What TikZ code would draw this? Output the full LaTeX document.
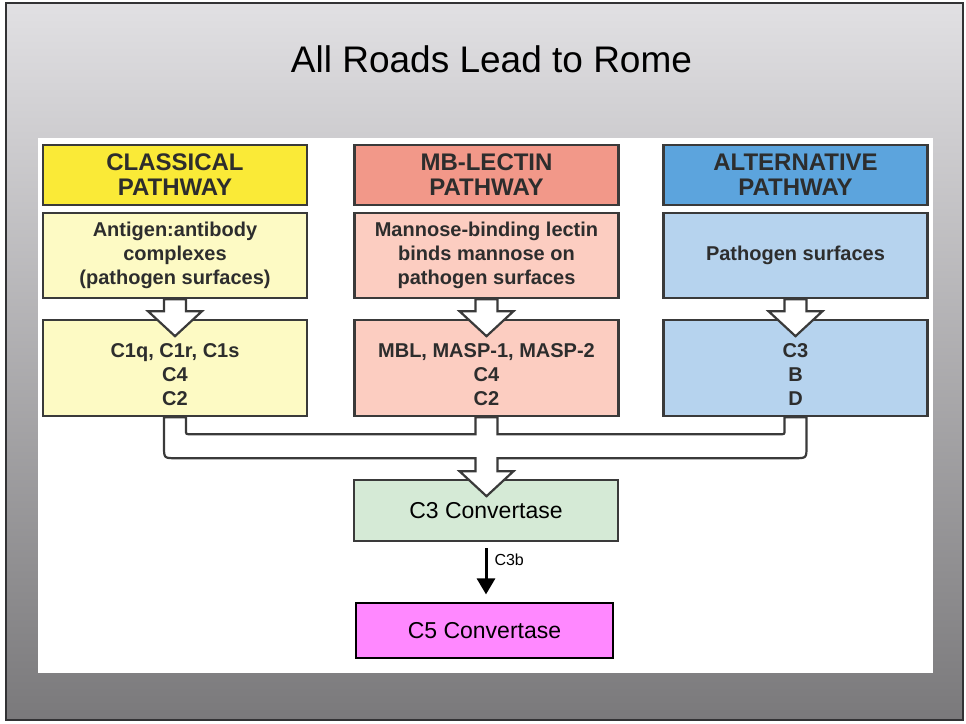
\documentclass[tikz,border=0pt]{standalone}
\usepackage{fontspec}
\setmainfont{Liberation Sans}
\usetikzlibrary{calc,arrows.meta}
\definecolor{bgtop}{RGB}{225,224,227}
\definecolor{bgmid}{RGB}{190,189,192}
\definecolor{bgbot}{RGB}{122,121,123}
\definecolor{framecol}{RGB}{50,50,52}
\definecolor{edge}{RGB}{58,58,58}
\definecolor{txt}{RGB}{45,45,45}
\definecolor{yelH}{RGB}{250,234,55}
\definecolor{yelL}{RGB}{253,250,196}
\definecolor{salH}{RGB}{242,152,137}
\definecolor{salL}{RGB}{252,205,193}
\definecolor{bluH}{RGB}{92,164,221}
\definecolor{bluL}{RGB}{182,211,238}
\definecolor{grn}{RGB}{213,234,214}
\definecolor{mag}{RGB}{255,136,255}
\newcommand{\lowstrut}{\rule{0pt}{27pt}}
\tikzset{
  hdr/.style={draw=edge, line width=2.4pt, minimum width=264pt, minimum height=60pt,
    inner sep=0pt, align=center, text=txt, font=\fontsize{24}{25}\selectfont\bfseries},
  midbox/.style={draw=edge, line width=2.4pt, minimum width=264pt, minimum height=85pt,
    inner sep=0pt, align=center, text=txt, font=\fontsize{20}{24}\selectfont\bfseries},
  lowbox/.style={draw=edge, line width=2.4pt, minimum width=264pt, minimum height=96pt,
    inner sep=0pt, align=center, text=txt, font=\fontsize{20}{24}\selectfont\bfseries},
  convbox/.style={line width=2.4pt, inner sep=0pt, align=center, text=black,
    font=\fontsize{23}{24}\selectfont},
  hollow/.style={draw=edge, fill=white, line width=2.2pt, line join=miter},
}
\begin{document}
\begin{tikzpicture}[x=1pt,y=-1pt]
\useasboundingbox (0,0) rectangle (966,723);
\fill[white] (0,0) rectangle (966,723);
\shade[top color=bgtop, middle color=bgmid, bottom color=bgbot] (6,3) rectangle (963,720);
\draw[framecol, line width=2pt] (6,3) rectangle (963,720);
\fill[white] (38,138) rectangle (933,673);

\node[font=\fontsize{37}{40}\selectfont, anchor=base] (title) at (491.5,72) {All Roads Lead to Rome};

% headers
\node[hdr, fill=yelH] (h1) at (175,175) {CLASSICAL\\PATHWAY};
\node[hdr, fill=salH] (h2) at (486.5,175) {MB-LECTIN\\PATHWAY};
\node[hdr, fill=bluH] (h3) at (795.5,175) {ALTERNATIVE\\PATHWAY};

% middle row
\node[midbox, fill=yelL] (m1) at (175,255.5) {Antigen:antibody\\complexes\\(pathogen surfaces)};
\node[midbox, fill=salL] (m2) at (486.5,255.5) {Mannose-binding lectin\\binds mannose on\\pathogen surfaces};
\node[midbox, fill=bluL] (m3) at (795.5,255.5) {Pathogen surfaces};

% lower row (text sits a little below the centre, as in the reference)
\node[lowbox, fill=yelL] (l1) at (175,368) {\lowstrut C1q, C1r, C1s\\C4\\C2};
\node[lowbox, fill=salL] (l2) at (486.5,368) {\lowstrut MBL, MASP-1, MASP-2\\C4\\C2};
\node[lowbox, fill=bluL] (l3) at (795.5,368) {\lowstrut C3\\B\\D};

% convertases
\node[convbox, draw=edge, fill=grn, minimum width=264pt, minimum height=61pt] (c3) at (486,510.5) {C3 Convertase};
\node[convbox, draw=black, line width=1.2pt, fill=mag, minimum width=257pt, minimum height=55pt] (c5) at (484.5,630.5) {C5 Convertase};

% hollow arrows between middle and lower rows
\foreach \n in {m1,m2,m3}{
  \filldraw[hollow] ($(\n.south)+(-11,0)$) -- ++(0,12) -- ++(-16,0)
    -- ($(\n.south)+(0,37)$) -- ($(\n.south)+(27,12)$) -- ++(-16,0)
    -- ($(\n.south)+(11,0)$) -- cycle;
}

% merging hollow arrow
\coordinate (L) at (l1.south);
\coordinate (M) at (l2.south);
\coordinate (R) at (l3.south);
\filldraw[hollow]
  ($(L)+(-11,0)$) -- ($(L)+(-11,29)$) .. controls ($(L)+(-11,41)$) .. ($(L)+(1,41)$)
  -- ($(M)+(-11,41)$) -- ($(M)+(-11,54)$) -- ($(M)+(-27,54)$)
  -- ($(M)+(0,79)$) -- ($(M)+(27,54)$) -- ($(M)+(11,54)$) -- ($(M)+(11,41)$)
  -- ($(R)+(-1,41)$) .. controls ($(R)+(11,41)$) .. ($(R)+(11,29)$)
  -- ($(R)+(11,0)$) -- ($(R)+(-11,0)$)
  -- ($(R)+(-11,13)$) .. controls ($(R)+(-11,17)$) .. ($(R)+(-15,17)$)
  -- ($(M)+(11,17)$) -- ($(M)+(11,0)$) -- ($(M)+(-11,0)$) -- ($(M)+(-11,17)$)
  -- ($(L)+(15,17)$) .. controls ($(L)+(11,17)$) .. ($(L)+(11,13)$)
  -- ($(L)+(11,0)$) -- cycle;

% C3b arrow
\draw[line width=3pt, -{Triangle[length=16pt,width=18pt]}, shorten <=6pt, shorten >=8pt]
  (c3.south) -- (c3.south |- c5.north);
\node[anchor=west, font=\fontsize{16}{18}\selectfont] (c3b) at ($(c3.south)+(5,18)$) {C3b};
\end{tikzpicture}
\end{document}
